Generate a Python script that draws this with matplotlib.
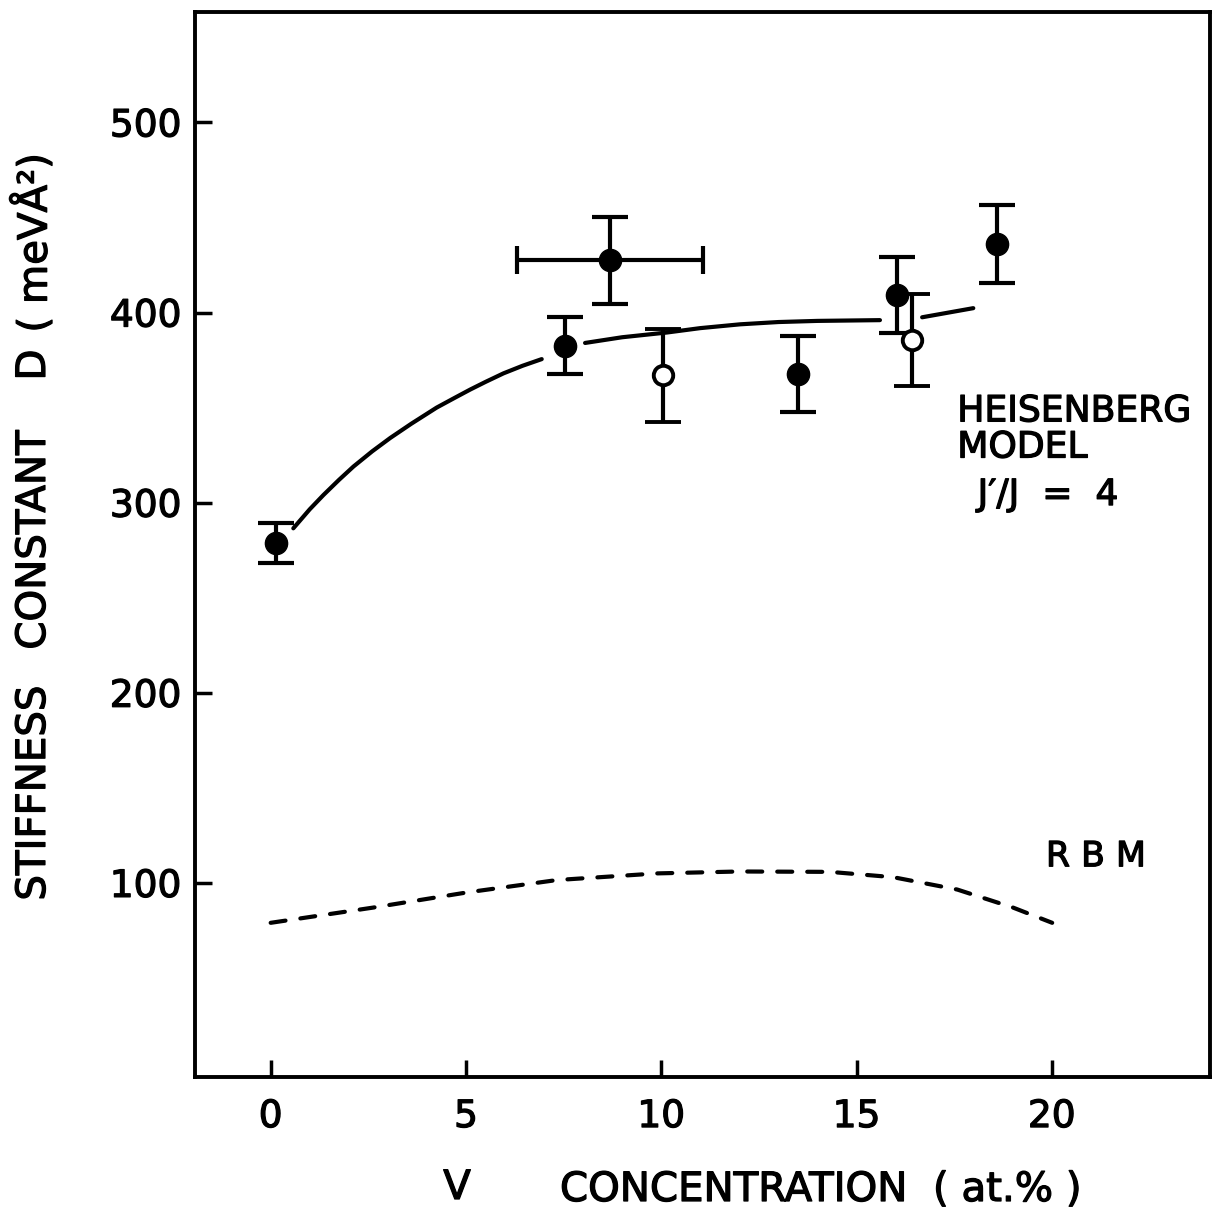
import matplotlib

matplotlib.use("Agg")
import matplotlib.pyplot as plt
import matplotlib.patheffects as pe

plt.rcParams["font.family"] = ["DejaVu Sans"]

# measured spin-wave stiffness, filled symbols
filled_conc = [0.14, 7.54, 8.69, 13.5, 16.04, 18.6]
filled_D = [279, 382.5, 427.5, 367.5, 409, 436]
filled_err = [10.5, 15, 23, 20, 20, 20.5]

# horizontal uncertainty on the 8.7 % sample
wide_conc = 8.69
wide_D = 427.5
wide_xerr = 2.38

# open symbols
open_conc = [10.05, 16.42]
open_D = [367, 385.5]
open_err = [24.5, 24]

# Heisenberg model J'/J = 4, drawn in pieces that stop short of the symbols
heis_conc_1 = [0.58, 1.0, 1.35, 1.75, 2.12, 2.6, 3.06, 3.6, 4.25, 4.7, 5.11, 5.5, 5.96, 6.45, 6.94]
heis_D_1 = [286.5, 296.5, 304, 312, 319, 327, 334, 341.5, 350, 355, 359.5, 363.5, 368, 372, 375.5]
heis_conc_2 = [8.05, 9.0, 10.15, 11.0, 12.02, 13.0, 14.0, 15.6]
heis_D_2 = [384, 387, 389.5, 391.8, 393.8, 395, 395.6, 396]
heis_conc_3 = [16.68, 17.99]
heis_D_3 = [397.5, 402.3]

# rigid band model
rbm_conc = [0.0, 2.62, 5.03, 7.33, 9.9, 12.0, 14.32, 15.94, 17.58, 19.01, 20.01]
rbm_D = [79, 87, 95, 101.5, 105, 106, 105.8, 103, 96.5, 87, 79]

x_ticks = [0, 5, 10, 15, 20]
y_ticks = [100, 200, 300, 400, 500]

ink = [pe.withStroke(linewidth=0.9, foreground="black")]

fig = plt.figure(figsize=(12.13, 12.14), dpi=100)
ax = fig.add_axes([0.161, 0.113, 0.8365, 0.877])

ax.set_xlim(-1.93, 24.05)
ax.set_ylim(-2, 558)

for xs, ys in [(heis_conc_1, heis_D_1), (heis_conc_2, heis_D_2), (heis_conc_3, heis_D_3)]:
    ax.plot(xs, ys, color="black", lw=3.0, solid_capstyle="round", zorder=2)

ax.plot(rbm_conc, rbm_D, color="black", lw=3.0, dashes=(3.6, 3.6),
        dash_capstyle="round", zorder=2)

ax.errorbar(filled_conc, filled_D, yerr=filled_err, fmt="o", color="black",
            ms=16, elinewidth=3.0, capsize=13, capthick=3.0, zorder=4)
ax.errorbar([wide_conc], [wide_D], xerr=[wide_xerr], fmt="none", ecolor="black",
            elinewidth=3.0, capsize=10, capthick=3.0, zorder=3)
ax.errorbar(open_conc, open_D, yerr=open_err, fmt="o", color="black",
            mfc="white", mec="black", mew=2.8, ms=14, elinewidth=3.0,
            capsize=13, capthick=3.0, zorder=4)

for side in ax.spines.values():
    side.set_linewidth(2.8)

ax.set_xticks(x_ticks)
ax.set_yticks(y_ticks)
ax.tick_params(direction="in", length=12, width=2.5, labelsize=27, pad=16)
ax.tick_params(axis="y", pad=10)
for t in ax.get_xticklabels() + ax.get_yticklabels():
    t.set_path_effects(ink)

notes = [
    ax.text(17.58, 348, "HEISENBERG", fontsize=26, va="center", ha="left"),
    ax.text(17.58, 329, "MODEL", fontsize=26, va="center", ha="left"),
    ax.text(18.1, 304, "J\u2032/J  =  4", fontsize=26, va="center", ha="left"),
    ax.text(19.85, 114, "R B M", fontsize=25, va="center", ha="left"),
]

# y label split into spaced words along the left edge
lab = dict(rotation=90, fontsize=29, ha="center", va="center")
notes += [
    fig.text(0.028, 1 - 793 / 1214, "STIFFNESS", **lab),
    fig.text(0.028, 1 - 540 / 1214, "CONSTANT", **lab),
    fig.text(0.028, 1 - 365 / 1214, "D", **lab),
    fig.text(0.028, 1 - 243 / 1214, "( meV\u00c5\u00b2)", **lab),
    fig.text(457 / 1213, 1 - 1188 / 1214, "V", fontsize=29, ha="center", va="center"),
    fig.text(560 / 1213, 1 - 1190 / 1214, "CONCENTRATION  ( at.% )", fontsize=29,
             ha="left", va="center"),
]
for t in notes:
    t.set_path_effects(ink)

fig.savefig("out.png", dpi=100)
